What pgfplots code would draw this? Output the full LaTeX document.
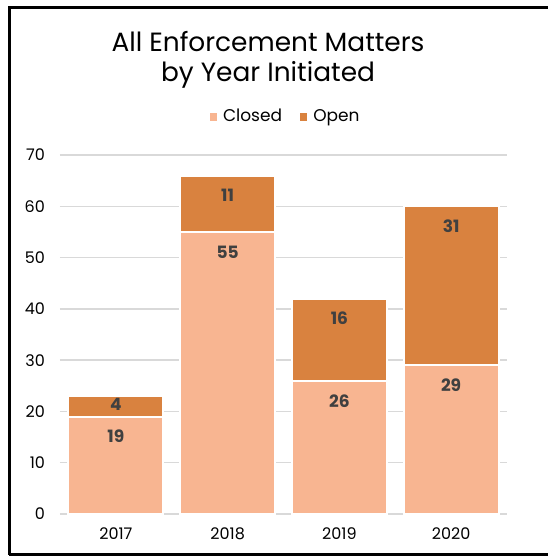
\documentclass[border=0pt]{standalone}
\usepackage{pgfplots}
\pgfplotsset{compat=1.18}
\usepackage{fontspec}
\setmainfont{Poppins}
\definecolor{closedc}{HTML}{F8B591}
\definecolor{openc}{HTML}{D9823F}
\definecolor{gridc}{HTML}{D9D9D9}
\definecolor{txt}{HTML}{404040}
\begin{document}
\begin{tikzpicture}[x=0.5pt,y=0.5pt]
\path[use as bounding box] (0,0) rectangle (548,559);
\draw[black,line width=1.6pt] (9.5,4.5) -- (9.5,551.5) -- (560,551.5);
\draw[black,line width=1.6pt] (9.5,4.5) -- (560,4.5);
\node[font=\fontsize{13.2}{16}\selectfont, text=black] at (268,517) {All Enforcement Matters};
\node[font=\fontsize{13.2}{16}\selectfont, text=black] at (268,484) {by Year Initiated};
\begin{axis}[
  at={(30pt,22.5pt)}, anchor=south west,
  scale only axis, width=223.5pt, height=179.5pt,
  ybar stacked, bar width=47.5pt,
  xmin=-0.5, xmax=3.5, ymin=0, ymax=70,
  xtick=data, xticklabels={2017,2018,2019,2020},
  ytick={0,10,...,70},
  ymajorgrids, grid style={gridc, line width=0.7pt},
  axis x line*=bottom, axis y line*=left,
  y axis line style={draw=none},
  x axis line style={draw=gridc, line width=0.7pt, -},
  major tick length=0pt,
  /pgf/number format/assume math mode=true,
  tick label style={font=\fontsize{8}{9}\selectfont, text=black},
  yticklabel style={xshift=-4pt},
  xticklabel style={yshift=-3.5pt},
  legend columns=2,
  legend style={draw=none, fill=none, at={(0.505,1)}, anchor=center, yshift=19pt,
    font=\fontsize{8.5}{9}\selectfont, /tikz/every even column/.append style={column sep=6pt}},
  legend image code/.code={\fill[#1] (0pt,-2.3pt) rectangle (4.6pt,2.3pt);},
  nodes near coords, point meta=explicit,
  visualization depends on=rawy \as \rawy,
  every node near coord/.append style={anchor=north, yshift={(\rawy<5 ? 8 : \rawy*1.2821-3)*1pt}, font=\fontsize{8.5}{9}\selectfont\bfseries, text=txt},
]
\addplot[fill=closedc, draw=white, line width=1pt] coordinates {(0,19) [19] (1,55) [55] (2,26) [26] (3,29) [29]};
\addplot[fill=openc, draw=white, line width=1pt] coordinates {(0,4) [4] (1,11) [11] (2,16) [16] (3,31) [31]};
\legend{Closed,Open}
\end{axis}
\end{tikzpicture}
\end{document}
